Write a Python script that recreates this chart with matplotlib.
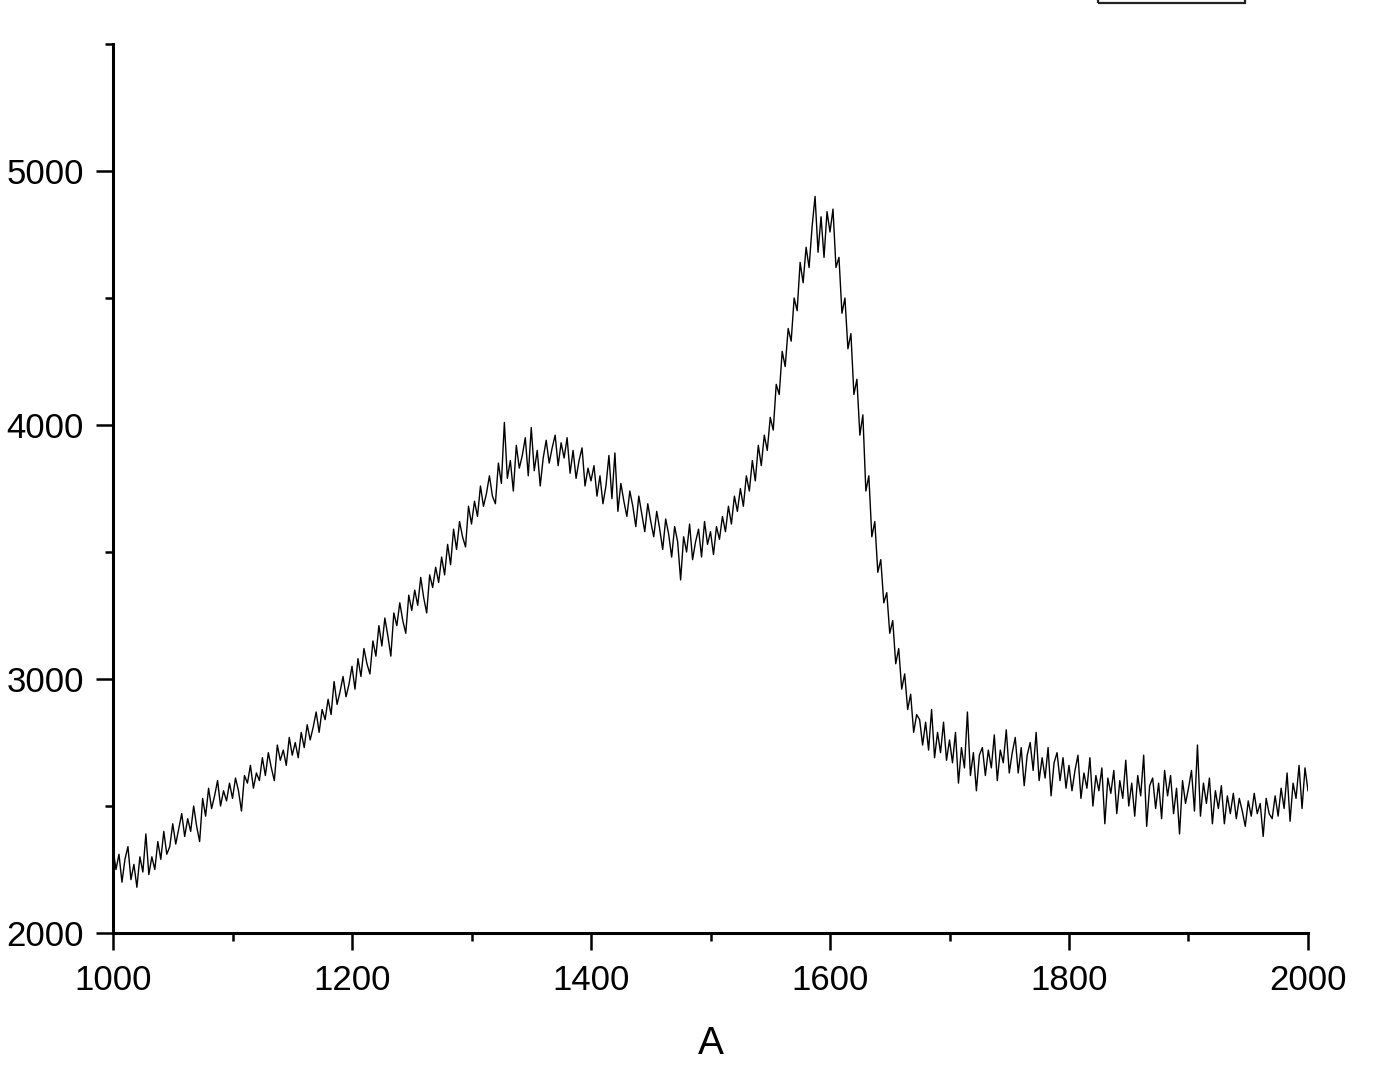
"""
Spectrum plot - noisy two-band curve between 1000 and 2000
"""
import matplotlib.pyplot as plt
import numpy as np
from matplotlib.patches import Rectangle
from matplotlib.ticker import MultipleLocator

plt.rcParams["font.family"] = ["Liberation Sans", "DejaVu Sans"]

# x grid: one reading every 2.5 units from 1000 to 2000
x_start, x_stop, x_step = 1000.0, 2000.0, 2.5

# readings, 1000 -> 1197.5
seg_1000 = [
    2330, 2250, 2310, 2200, 2290, 2340, 2210, 2270, 2180, 2300,
    2240, 2390, 2230, 2300, 2250, 2360, 2290, 2400, 2310, 2340,
    2430, 2350, 2410, 2470, 2380, 2450, 2400, 2500, 2420, 2360,
    2530, 2460, 2570, 2490, 2540, 2600, 2500, 2560, 2520, 2590,
    2530, 2610, 2560, 2480, 2620, 2590, 2660, 2570, 2630, 2600,
    2690, 2620, 2710, 2650, 2600, 2740, 2680, 2720, 2660, 2770,
    2700, 2750, 2690, 2790, 2730, 2820, 2760, 2810, 2870, 2790,
    2880, 2840, 2920, 2860, 2990, 2900, 2950, 3010, 2930, 2980,
]
# readings, 1200 -> 1397.5
seg_1200 = [
    3050, 2960, 3080, 3010, 3120, 3060, 3020, 3150, 3090, 3210,
    3130, 3240, 3170, 3090, 3260, 3210, 3300, 3230, 3180, 3330,
    3270, 3350, 3290, 3400, 3320, 3260, 3410, 3360, 3440, 3380,
    3480, 3410, 3530, 3450, 3590, 3510, 3620, 3560, 3520, 3680,
    3610, 3700, 3640, 3760, 3680, 3730, 3800, 3720, 3690, 3850,
    3770, 4010, 3790, 3860, 3740, 3920, 3830, 3880, 3950, 3800,
    3990, 3820, 3900, 3760, 3870, 3940, 3850, 3910, 3960, 3840,
    3930, 3870, 3950, 3810, 3900, 3790, 3860, 3910, 3760, 3830,
]
# readings, 1400 -> 1597.5
seg_1400 = [
    3780, 3840, 3720, 3800, 3690, 3760, 3880, 3710, 3890, 3660,
    3770, 3700, 3640, 3740, 3680, 3600, 3720, 3650, 3580, 3690,
    3620, 3560, 3660, 3590, 3510, 3630, 3570, 3480, 3600, 3540,
    3390, 3560, 3500, 3610, 3470, 3540, 3590, 3480, 3620, 3530,
    3580, 3490, 3600, 3550, 3640, 3580, 3680, 3610, 3720, 3660,
    3750, 3680, 3800, 3740, 3860, 3780, 3920, 3840, 3960, 3900,
    4030, 3980, 4160, 4120, 4290, 4230, 4380, 4330, 4500, 4450,
    4640, 4560, 4700, 4620, 4780, 4900, 4680, 4820, 4660, 4840,
]
# readings, 1600 -> 1797.5
seg_1600 = [
    4760, 4850, 4620, 4660, 4440, 4500, 4300, 4360, 4120, 4180,
    3960, 4040, 3740, 3800, 3560, 3620, 3420, 3470, 3300, 3340,
    3180, 3230, 3060, 3120, 2960, 3020, 2880, 2940, 2790, 2860,
    2840, 2740, 2830, 2720, 2880, 2690, 2790, 2710, 2830, 2680,
    2760, 2670, 2790, 2590, 2730, 2650, 2870, 2620, 2710, 2560,
    2700, 2730, 2620, 2720, 2650, 2780, 2600, 2720, 2670, 2800,
    2630, 2710, 2770, 2630, 2730, 2580, 2700, 2750, 2640, 2790,
    2600, 2690, 2610, 2730, 2540, 2670, 2710, 2600, 2690, 2570,
]
# readings, 1800 -> 2000
seg_1800 = [
    2660, 2560, 2640, 2700, 2530, 2630, 2570, 2690, 2500, 2620,
    2560, 2650, 2430, 2610, 2550, 2640, 2470, 2600, 2530, 2680,
    2500, 2590, 2460, 2620, 2540, 2700, 2420, 2580, 2610, 2490,
    2590, 2450, 2640, 2540, 2620, 2470, 2570, 2390, 2600, 2510,
    2570, 2640, 2480, 2740, 2460, 2590, 2510, 2610, 2430, 2560,
    2490, 2580, 2430, 2540, 2470, 2550, 2450, 2530, 2480, 2420,
    2520, 2460, 2550, 2470, 2510, 2380, 2530, 2470, 2450, 2540,
    2460, 2570, 2490, 2630, 2440, 2590, 2530, 2660, 2490, 2650,
    2560,
]

x_ticks = [1000, 1200, 1400, 1600, 1800, 2000]
y_ticks = [2000, 3000, 4000, 5000]
x_label = "A"

y = np.array(seg_1000 + seg_1200 + seg_1400 + seg_1600 + seg_1800, dtype=float)
x = x_start + x_step * np.arange(len(y))

W, H = 1382, 1065
fig = plt.figure(figsize=(W / 100, H / 100), dpi=100)
ax = fig.add_axes([113 / W, 1 - 933 / H, (1308 - 113) / W, (933 - 44) / H])

ax.plot(x, y, color="black", linewidth=1.0)

ax.set_xlim(x_start, x_stop)
ax.set_ylim(2000, 5500)
ax.set_xticks(x_ticks)
ax.set_yticks(y_ticks)
ax.xaxis.set_minor_locator(MultipleLocator(100))
ax.yaxis.set_minor_locator(MultipleLocator(500))

for side in ("top", "right"):
    ax.spines[side].set_visible(False)
for side in ("left", "bottom"):
    ax.spines[side].set_linewidth(2.2)

ax.tick_params(which="major", direction="out", length=12, width=1.8,
               labelsize=25, pad=10)
ax.tick_params(which="minor", direction="out", length=6, width=1.8)
ax.tick_params(axis="y", which="major", pad=9)

ax.set_xlabel(x_label, fontsize=28, labelpad=21)

# legend frame, mostly above the visible area
fig.patches.append(Rectangle((1098 / W, 1 - 3 / H), (1245 - 1098) / W, 0.05,
                             transform=fig.transFigure, fill=False,
                             edgecolor="#222222", linewidth=1.6))

fig.savefig("out.png", dpi=100)
plt.close(fig)
